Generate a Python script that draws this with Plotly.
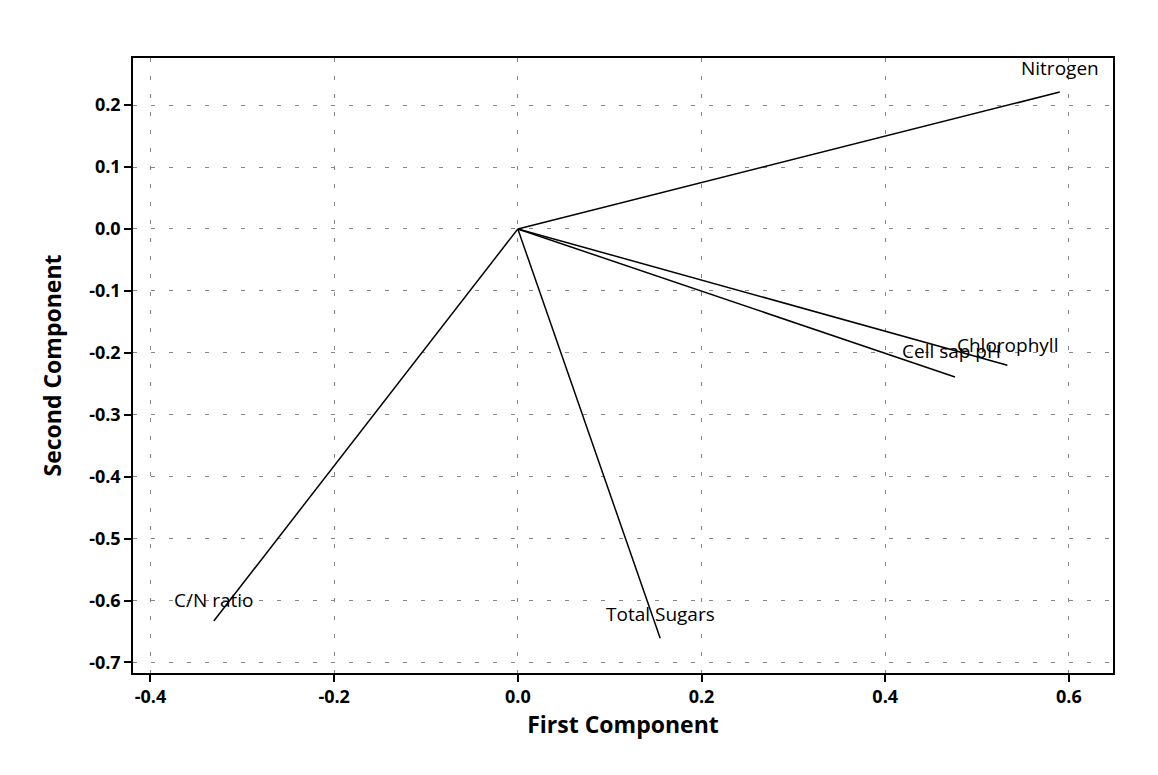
import plotly.graph_objects as go

variables = ["Nitrogen", "Chlorophyll", "Cell sap pH", "C/N ratio", "Total Sugars"]
pc1 = [0.590, 0.533, 0.476, -0.331, 0.155]
pc2 = [0.221, -0.220, -0.239, -0.633, -0.661]

x_ticks = [-0.4, -0.2, 0.0, 0.2, 0.4, 0.6]
y_ticks = [0.2, 0.1, 0.0, -0.1, -0.2, -0.3, -0.4, -0.5, -0.6, -0.7]

fig = go.Figure()
for name, x, y in zip(variables, pc1, pc2):
    fig.add_trace(go.Scatter(x=[0, x], y=[0, y], mode="lines",
                             line=dict(color="black", width=1.5),
                             showlegend=False, hoverinfo="skip"))

# label offsets (pixels) relative to each vector's end point
label_dx = [0, 0, -4, 0, 0]
label_dy = [24, 20, 26, 21, 24]
for name, x, y, dx, dy in zip(variables, pc1, pc2, label_dx, label_dy):
    fig.add_annotation(x=x, y=y, text=name, showarrow=False,
                       xanchor="center", yanchor="middle",
                       xshift=dx, yshift=dy,
                       font=dict(family="Open Sans", size=19, color="black"))

axis_common = dict(showline=True, linecolor="black", linewidth=1.5, mirror=True,
                   ticks="outside", ticklen=7, tickcolor="black", tickwidth=1.5,
                   showgrid=True, gridcolor="#888888", gridwidth=1, griddash="4px,14px",
                   zeroline=False, automargin=False,
                   tickfont=dict(family="Open Sans", size=18, color="black", weight="bold"))

fig.update_xaxes(range=[-0.419, 0.648], tickvals=x_ticks,
                 ticktext=[f"{v:.1f}" for v in x_ticks],
                 title=dict(text="First Component",
                            font=dict(family="Open Sans", size=23, color="black", weight="bold"),
                            standoff=8),
                 **axis_common)
fig.update_yaxes(range=[-0.717, 0.276], tickvals=y_ticks,
                 ticktext=[f"{v:.1f}" for v in y_ticks],
                 title=dict(text="Second Component",
                            font=dict(family="Open Sans", size=23, color="black", weight="bold"),
                            standoff=21),
                 **axis_common)

fig.update_layout(width=1158, height=775,
                  margin=dict(l=125, r=53, t=50, b=110, autoexpand=False),
                  plot_bgcolor="white", paper_bgcolor="white")

fig.write_html("out.html")
